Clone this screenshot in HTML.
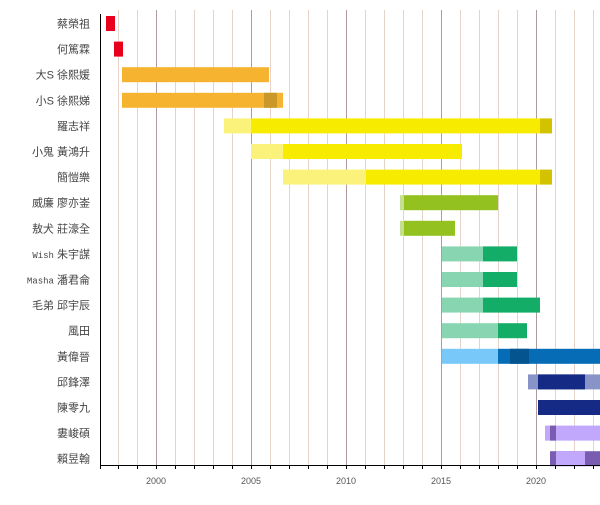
<!DOCTYPE html>
<html><head><meta charset="utf-8"><style>
html,body{margin:0;padding:0;background:#fff;}
text{font-family:"Liberation Sans","Noto Sans CJK TC",sans-serif;}
</style></head><body>
<svg width="600" height="500" xmlns="http://www.w3.org/2000/svg">
<g stroke="#e6d4ca" stroke-width="1">
<line x1="118.5" y1="10" x2="118.5" y2="465"/><line x1="137.5" y1="10" x2="137.5" y2="465"/>
<line x1="175.5" y1="10" x2="175.5" y2="465"/><line x1="194.5" y1="10" x2="194.5" y2="465"/><line x1="213.5" y1="10" x2="213.5" y2="465"/><line x1="232.5" y1="10" x2="232.5" y2="465"/>
<line x1="270.5" y1="10" x2="270.5" y2="465"/><line x1="289.5" y1="10" x2="289.5" y2="465"/><line x1="308.5" y1="10" x2="308.5" y2="465"/><line x1="327.5" y1="10" x2="327.5" y2="465"/>
<line x1="365.5" y1="10" x2="365.5" y2="465"/><line x1="384.5" y1="10" x2="384.5" y2="465"/><line x1="403.5" y1="10" x2="403.5" y2="465"/><line x1="422.5" y1="10" x2="422.5" y2="465"/>
<line x1="460.5" y1="10" x2="460.5" y2="465"/><line x1="479.5" y1="10" x2="479.5" y2="465"/><line x1="498.5" y1="10" x2="498.5" y2="465"/><line x1="517.5" y1="10" x2="517.5" y2="465"/>
<line x1="555.5" y1="10" x2="555.5" y2="465"/><line x1="574.5" y1="10" x2="574.5" y2="465"/><line x1="593.5" y1="10" x2="593.5" y2="465"/>
</g>
<g stroke="#b09a9e" stroke-width="1">
<line x1="156.5" y1="10" x2="156.5" y2="465"/><line x1="251.5" y1="10" x2="251.5" y2="465"/><line x1="346.5" y1="10" x2="346.5" y2="465"/><line x1="441.5" y1="10" x2="441.5" y2="465"/><line x1="536.5" y1="10" x2="536.5" y2="465"/>
</g>
<g>
<rect x="106" y="16" width="9" height="15" fill="#e8001c"/>
<rect x="114" y="41.6" width="9" height="15" fill="#e8001c"/>
<rect x="122" y="67.2" width="147" height="15" fill="#f5b32f"/>
<rect x="122" y="92.8" width="161" height="15" fill="#f5b32f"/><rect x="264" y="92.8" width="13" height="15" fill="#c9972a"/>
<rect x="224" y="118.4" width="27" height="15" fill="#faf27a"/><rect x="251" y="118.4" width="289" height="15" fill="#f7ec00"/><rect x="540" y="118.4" width="12" height="15" fill="#d2c200"/>
<rect x="251" y="144" width="32" height="15" fill="#faf27a"/><rect x="283" y="144" width="179" height="15" fill="#f7ec00"/>
<rect x="283" y="169.6" width="83" height="15" fill="#faf27a"/><rect x="366" y="169.6" width="174" height="15" fill="#f7ec00"/><rect x="540" y="169.6" width="12" height="15" fill="#d2c200"/>
<rect x="400" y="195.2" width="4" height="15" fill="#c5df8f"/><rect x="404" y="195.2" width="94" height="15" fill="#93c11f"/>
<rect x="400" y="220.8" width="4" height="15" fill="#c5df8f"/><rect x="404" y="220.8" width="51" height="15" fill="#93c11f"/>
<rect x="442" y="246.4" width="41" height="15" fill="#88d5b2"/><rect x="483" y="246.4" width="34" height="15" fill="#13ad68"/>
<rect x="442" y="272" width="41" height="15" fill="#88d5b2"/><rect x="483" y="272" width="34" height="15" fill="#13ad68"/>
<rect x="442" y="297.6" width="41" height="15" fill="#88d5b2"/><rect x="483" y="297.6" width="57" height="15" fill="#13ad68"/>
<rect x="442" y="323.2" width="56" height="15" fill="#88d5b2"/><rect x="498" y="323.2" width="29" height="15" fill="#13ad68"/>
<rect x="442" y="348.8" width="56" height="15" fill="#78c8fa"/><rect x="498" y="348.8" width="102" height="15" fill="#056cb5"/><rect x="510" y="348.8" width="19" height="15" fill="#04548f"/>
<rect x="528" y="374.4" width="72" height="15" fill="#8894c7"/><rect x="538" y="374.4" width="47" height="15" fill="#152a85"/>
<rect x="538" y="400" width="62" height="15" fill="#152a85"/>
<rect x="545" y="425.6" width="55" height="15" fill="#c2a8fc"/><rect x="550" y="425.6" width="6" height="15" fill="#7a5cb0"/>
<rect x="550" y="451.2" width="50" height="15" fill="#7a5cb0"/><rect x="556" y="451.2" width="29" height="15" fill="#c2a8fc"/>
</g>
<line x1="100.5" y1="14" x2="100.5" y2="465" stroke="#000"/>
<line x1="100" y1="465.5" x2="600" y2="465.5" stroke="#000"/>
<g stroke="#000">
<line x1="100.5" y1="465" x2="100.5" y2="469"/><line x1="118.5" y1="465" x2="118.5" y2="469"/><line x1="137.5" y1="465" x2="137.5" y2="469"/><line x1="156.5" y1="465" x2="156.5" y2="469"/><line x1="175.5" y1="465" x2="175.5" y2="469"/><line x1="194.5" y1="465" x2="194.5" y2="469"/><line x1="213.5" y1="465" x2="213.5" y2="469"/><line x1="232.5" y1="465" x2="232.5" y2="469"/><line x1="251.5" y1="465" x2="251.5" y2="469"/><line x1="270.5" y1="465" x2="270.5" y2="469"/><line x1="289.5" y1="465" x2="289.5" y2="469"/><line x1="308.5" y1="465" x2="308.5" y2="469"/><line x1="327.5" y1="465" x2="327.5" y2="469"/><line x1="346.5" y1="465" x2="346.5" y2="469"/><line x1="365.5" y1="465" x2="365.5" y2="469"/><line x1="384.5" y1="465" x2="384.5" y2="469"/><line x1="403.5" y1="465" x2="403.5" y2="469"/><line x1="422.5" y1="465" x2="422.5" y2="469"/><line x1="441.5" y1="465" x2="441.5" y2="469"/><line x1="460.5" y1="465" x2="460.5" y2="469"/><line x1="479.5" y1="465" x2="479.5" y2="469"/><line x1="498.5" y1="465" x2="498.5" y2="469"/><line x1="517.5" y1="465" x2="517.5" y2="469"/><line x1="536.5" y1="465" x2="536.5" y2="469"/><line x1="555.5" y1="465" x2="555.5" y2="469"/><line x1="574.5" y1="465" x2="574.5" y2="469"/><line x1="593.5" y1="465" x2="593.5" y2="469"/>
</g>
<g font-size="9" fill="#555" text-anchor="middle">
<text x="156" y="484">2000</text><text x="251" y="484">2005</text><text x="346" y="484">2010</text><text x="441" y="484">2015</text><text x="536" y="484">2020</text>
</g>
<g font-size="11" fill="#444" text-anchor="end">
<text x="90" y="27.5">蔡榮祖</text>
<text x="90" y="53">何篤霖</text>
<text x="90" y="78.7">大S 徐熙媛</text>
<text x="90" y="104.3">小S 徐熙娣</text>
<text x="90" y="129.9">羅志祥</text>
<text x="90" y="155.5">小鬼 黃鴻升</text>
<text x="90" y="181.1">簡愷樂</text>
<text x="90" y="206.7">威廉 廖亦崟</text>
<text x="90" y="232.3">敖犬 莊濠全</text>
<text x="90" y="257.9"><tspan font-size="9" font-family="Liberation Mono, monospace">Wish</tspan> 朱宇謀</text>
<text x="90" y="283.5"><tspan font-size="9" font-family="Liberation Mono, monospace">Masha</tspan> 潘君侖</text>
<text x="90" y="309.1">毛弟 邱宇辰</text>
<text x="90" y="334.7">風田</text>
<text x="90" y="360.3">黃偉晉</text>
<text x="90" y="385.9">邱鋒澤</text>
<text x="90" y="411.5">陳零九</text>
<text x="90" y="437.1">婁峻碩</text>
<text x="90" y="462.7">賴昱翰</text>
</g>
</svg>
</body></html>
